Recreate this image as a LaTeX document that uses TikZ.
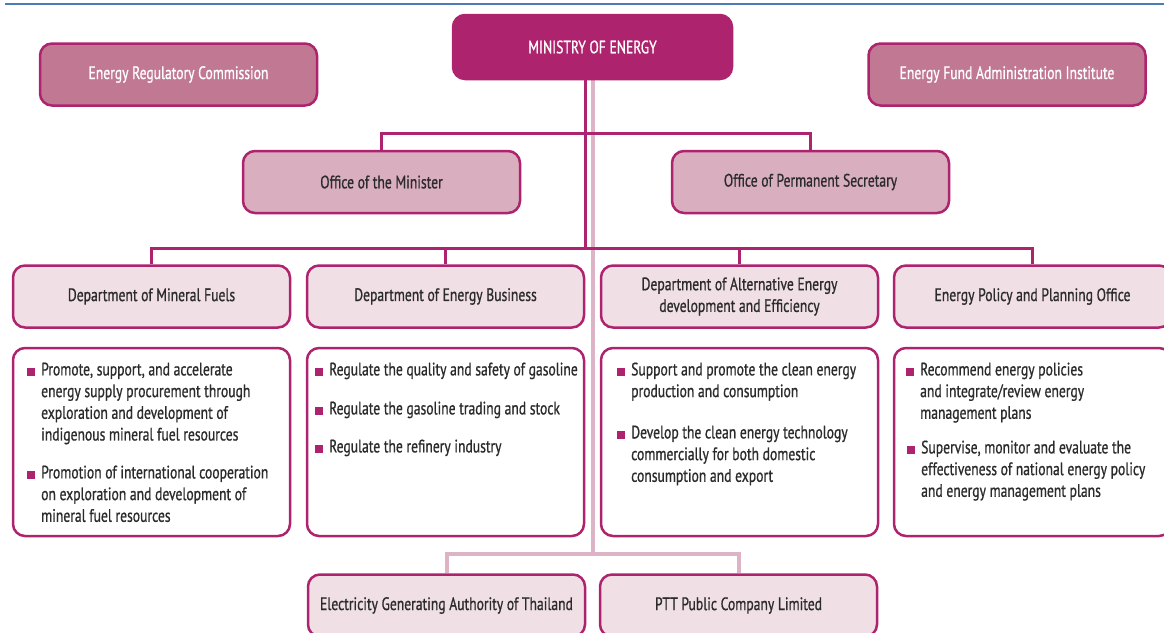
\documentclass[tikz,border=0pt]{standalone}
\usepackage{fontspec}
\setmainfont{PT Sans}[FakeStretch=0.757,FakeBold=0.8]
\usetikzlibrary{backgrounds}
\definecolor{mag}{HTML}{AE236D}
\definecolor{magmid}{HTML}{C07893}
\definecolor{maglight}{HTML}{D9AEBE}
\definecolor{magpale}{HTML}{F0E0E6}
\definecolor{magsoft}{HTML}{DDB3C6}
\definecolor{rulecol}{HTML}{4A7DB5}
\definecolor{ink}{HTML}{2B2B2B}
\newcommand\itemsq{\strut\llap{\textcolor{mag}{\rule[-0.4pt]{8pt}{8pt}}\hspace{6.5pt}}}
\begin{document}
\begin{tikzpicture}[x=1pt,y=-1pt,
  box/.style={draw=mag, line width=2.5pt, rounded corners=12pt,
    minimum width=277pt, minimum height=62pt, inner sep=0pt,
    align=center, text=ink, font=\fontsize{18}{21.7}\selectfont},
  topbox/.style={box, fill=mag, text=white, minimum width=279pt, minimum height=64pt},
  sidebox/.style={box, fill=magmid, text=white},
  officebox/.style={box, fill=maglight},
  deptbox/.style={box, fill=magpale},
  descbox/.style={box, fill=white, minimum height=188pt},
  itemtext/.style={anchor=north west, inner sep=0pt, align=left, text=ink,
    font=\fontsize{18}{21.7}\selectfont},
  link/.style={draw=mag, line width=3pt},
  soft/.style={draw=magsoft, line width=4pt}]
\useasboundingbox (0,0) rectangle (1164,632);

% page rule along the top
\coordinate (ruleL) at (5,4);
\coordinate (ruleR) at (1164,4);
\draw[rulecol, line width=2.8pt] (ruleL) -- (ruleR);

% top level
\node[topbox] (min) at (592.5,47) {MINISTRY OF ENERGY};
\node[sidebox] (erc) at (178.5,74.5) {Energy Regulatory Commission};
\node[sidebox] (efai) at (1007,74.5) {Energy Fund Administration Institute};

% offices
\node[officebox] (om) at (381.5,182) {Office of the Minister};
\node[officebox] (ops) at (810.5,182) {Office of Permanent Secretary};

% departments
\node[deptbox] (dmf) at (151.5,296.5) {Department of Mineral Fuels};
\node[deptbox] (deb) at (445.5,296.5) {Department of Energy Business};
\node[deptbox] (dae) at (739.5,296.5) {Department of Alternative Energy\\development and Efficiency};
\node[deptbox] (dpo) at (1032.5,296.5) {Energy Policy and Planning Office};

% duty boxes
\node[descbox] (xmf) at (151.5,442) {};
\node[descbox] (xeb) at (445.5,442) {};
\node[descbox] (xae) at (739.5,442) {};
\node[descbox] (xpo) at (1032.5,442) {};

\node[itemtext] (mf1) at (41,360) {\itemsq Promote, support, and accelerate\\energy supply procurement through\\exploration and development of\\indigenous mineral fuel resources};
\node[itemtext] (mf2) at (41,463) {\itemsq Promotion of international cooperation\\on exploration and development of\\mineral fuel resources};

\node[itemtext] (eb1) at (329,360) {\itemsq Regulate the quality and safety of gasoline};
\node[itemtext] (eb2) at (329,399) {\itemsq Regulate the gasoline trading and stock};
\node[itemtext] (eb3) at (329,437) {\itemsq Regulate the refinery industry};

\node[itemtext] (ae1) at (631,360) {\itemsq Support and promote the clean energy\\production and consumption};
\node[itemtext] (ae2) at (631,423) {\itemsq Develop the clean energy technology\\commercially for both domestic\\consumption and export};

\node[itemtext] (po1) at (920,360) {\itemsq Recommend energy policies\\and integrate/review energy\\management plans};
\node[itemtext] (po2) at (921,438) {\itemsq Supervise, monitor and evaluate the\\effectiveness of national energy policy\\and energy management plans};

% state enterprises
\node[deptbox] (egat) at (446.5,605.5) {Electricity Generating Authority of Thailand};
\node[deptbox] (ptt) at (738.5,605.5) {PTT Public Company Limited};

% connectors
\coordinate (hubA) at (585,133);
\coordinate (hubB) at (585,248.5);
\coordinate (hubC) at (592.5,554);
\begin{scope}[on background layer]
  \draw[soft] (min.south) -- (hubC);
  \draw[soft] (egat.north) |- (hubC) -| (ptt.north);
  \draw[link] ([xshift=-7.5pt]min.south) -- (hubB);
  \draw[link] (om.north) |- (hubA) -| (ops.north);
  \draw[link] (dmf.north) |- (hubB) -| (dpo.north);
  \draw[link] (deb.north) -- (deb.north |- hubB);
  \draw[link] (dae.north) -- (dae.north |- hubB);
\end{scope}
\end{tikzpicture}
\end{document}
